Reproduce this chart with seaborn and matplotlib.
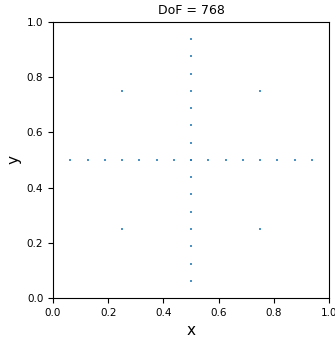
import pandas as pd
import seaborn as sns
import matplotlib
matplotlib.use("Agg")
import matplotlib.pyplot as plt

# points along the horizontal line y = 0.5
h_x = [0.0625, 0.125, 0.1875, 0.25, 0.3125, 0.375, 0.4375, 0.5,
       0.5625, 0.625, 0.6875, 0.75, 0.8125, 0.875, 0.9375]
h_y = [0.5] * 15

# points along the vertical line x = 0.5
v_x = [0.5] * 15
v_y = [0.0625, 0.125, 0.1875, 0.25, 0.3125, 0.375, 0.4375, 0.5,
       0.5625, 0.625, 0.6875, 0.75, 0.8125, 0.875, 0.9375]

# corner points
c_x = [0.25, 0.25, 0.75, 0.75]
c_y = [0.25, 0.75, 0.25, 0.75]

df = pd.DataFrame({
    'x': h_x + v_x + c_x,
    'y': h_y + v_y + c_y,
})

sns.set_style("ticks", {'text.color': 'black', 'axes.labelcolor': 'black',
                        'xtick.color': 'black', 'ytick.color': 'black',
                        'axes.edgecolor': 'black'})

fig = plt.figure(figsize=(3.35, 3.39), dpi=100)
ax = fig.add_axes([53 / 335, 41 / 339, 276 / 335, 276 / 339])

sns.scatterplot(data=df, x='x', y='y', ax=ax, s=2, marker='s',
                color='#1f77b4', linewidth=0, alpha=0.8)

ax.set_xlim(0, 1)
ax.set_ylim(0, 1)
ax.set_xticks([0.0, 0.2, 0.4, 0.6, 0.8, 1.0])
ax.set_yticks([0.0, 0.2, 0.4, 0.6, 0.8, 1.0])
ax.tick_params(labelsize=7.5, length=3.5, width=0.8)
ax.set_xlabel('x', fontsize=11)
ax.set_ylabel('y', fontsize=11)
ax.set_title('DoF = 768', fontsize=9)
for s in ax.spines.values():
    s.set_visible(True)
    s.set_linewidth(0.8)

fig.savefig('out.png', dpi=100)
